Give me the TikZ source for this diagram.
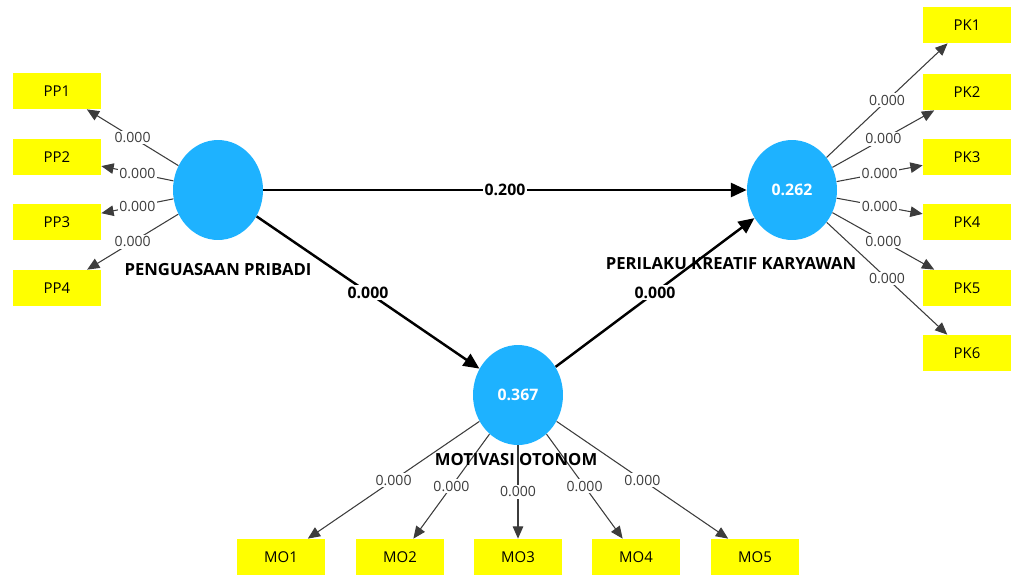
\documentclass[tikz,border=0pt]{standalone}
\usepackage{fontspec}
\setmainfont{Open Sans}
\usetikzlibrary{arrows.meta,shapes.geometric,positioning}
\definecolor{lvblue}{RGB}{30,178,255}
\definecolor{mvyellow}{RGB}{255,255,0}
\definecolor{loadgray}{RGB}{60,60,60}

\begin{document}
\begin{tikzpicture}[x=0.02cm,y=-0.02cm,->,>={Triangle[length=9pt,width=8pt]},
  lv/.style = {ellipse,fill=lvblue,minimum width=1.8cm,minimum height=2cm,inner sep=0pt,text=white,font=\bfseries\fontsize{9}{10}\selectfont},
  mv/.style = {rectangle,fill=mvyellow,minimum width=1.76cm,minimum height=0.72cm,inner sep=0pt,font=\fontsize{8.5}{10}\selectfont},
  struct/.style = {line width=1.4pt},
  outerarrow/.style = {line width=0.6pt,draw=loadgray,>={Triangle[length=7pt,width=6pt]}},
  coef/.style = {fill=white,inner sep=1pt,font=\bfseries\fontsize{9}{10}\selectfont},
  ldlabel/.style = {fill=white,inner sep=1pt,text=loadgray,font=\fontsize{8}{9}\selectfont},
  lvname/.style = {font=\bfseries\fontsize{9.5}{11}\selectfont}]

\useasboundingbox (0,0) rectangle (1011,575);

% latent variables
\node[lv] (pp) at (218,190) {};
\node[lv] (pk) at (792,190) {0.262};
\node[lv] (mo) at (518,395) {0.367};

% indicators
\node[mv] (pp1) at (57,91) {PP1};
\node[mv] (pp2) at (57,157) {PP2};
\node[mv] (pp3) at (57,222) {PP3};
\node[mv] (pp4) at (57,288) {PP4};

\node[mv] (pk1) at (967,25) {PK1};
\node[mv] (pk2) at (967,92) {PK2};
\node[mv] (pk3) at (967,157) {PK3};
\node[mv] (pk4) at (967,222) {PK4};
\node[mv] (pk5) at (967,288) {PK5};
\node[mv] (pk6) at (967,353) {PK6};

\node[mv] (mo1) at (281,557) {MO1};
\node[mv] (mo2) at (400,557) {MO2};
\node[mv] (mo3) at (518,557) {MO3};
\node[mv] (mo4) at (636,557) {MO4};
\node[mv] (mo5) at (755,557) {MO5};

% inner model
\path (pp) edge[struct] node[coef] {0.200} (pk);
\path (pp) edge[struct] node[coef] {0.000} (mo);
\path (mo) edge[struct] node[coef] {0.000} (pk);

% outer model
\path (pp) edge[outerarrow] node[ldlabel] {0.000} (pp1);
\path (pp) edge[outerarrow] node[ldlabel] {0.000} (pp2);
\path (pp) edge[outerarrow] node[ldlabel] {0.000} (pp3);
\path (pp) edge[outerarrow] node[ldlabel] {0.000} (pp4);

\path (pk) edge[outerarrow] node[ldlabel] {0.000} (pk1);
\path (pk) edge[outerarrow] node[ldlabel] {0.000} (pk2);
\path (pk) edge[outerarrow] node[ldlabel] {0.000} (pk3);
\path (pk) edge[outerarrow] node[ldlabel] {0.000} (pk4);
\path (pk) edge[outerarrow] node[ldlabel] {0.000} (pk5);
\path (pk) edge[outerarrow] node[ldlabel] {0.000} (pk6);

\path (mo) edge[outerarrow] node[ldlabel] {0.000} (mo1);
\path (mo) edge[outerarrow] node[ldlabel] {0.000} (mo2);
\path (mo) edge[outerarrow] node[ldlabel] {0.000} (mo3);
\path (mo) edge[outerarrow] node[ldlabel] {0.000} (mo4);
\path (mo) edge[outerarrow] node[ldlabel] {0.000} (mo5);

% construct names
\node[lvname] (ppname) at (218,270) {PENGUASAAN PRIBADI};
\node[lvname] (pkname) at (731,264) {PERILAKU KREATIF KARYAWAN};
\node[lvname] (moname) at (516,460) {MOTIVASI OTONOM};

\end{tikzpicture}
\end{document}
